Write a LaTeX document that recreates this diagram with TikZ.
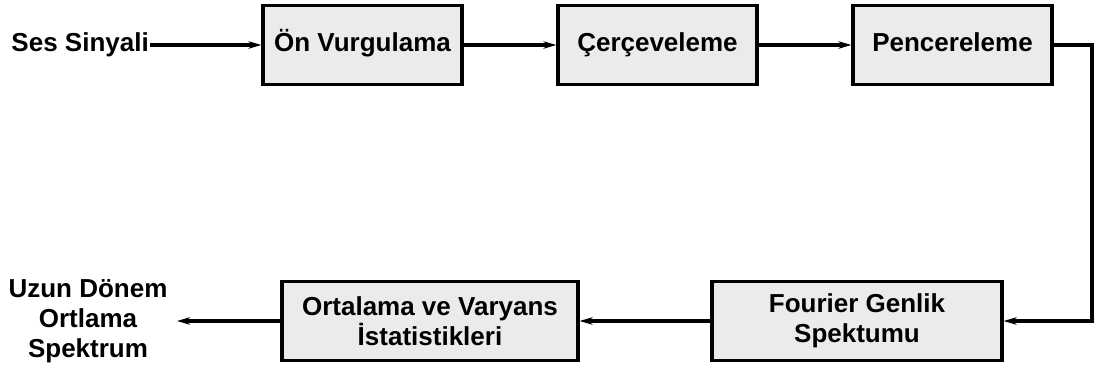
\documentclass[tikz,border=0pt]{standalone}
\usepackage{fontspec}
\setmainfont{Liberation Sans}
\usetikzlibrary{arrows.meta}
\definecolor{boxGray}{RGB}{235,235,235}
\tikzset{
  blok/.style={draw=black,fill=boxGray,line width=3.2pt,minimum height=79pt,align=center,
    font=\fontsize{26}{30}\selectfont\bfseries,inner sep=2pt},
  tekli/.style={text height=19pt,text depth=6pt},
  ok/.style={line width=3.2pt,-{Stealth[length=13pt,width=7.5pt]}}
}
\begin{document}
\begin{tikzpicture}[x=1pt,y=-1pt]
\useasboundingbox (0,0) rectangle (1097,367);
\node[blok,tekli,minimum width=199pt] (onv) at (362.5,45) {Ön Vurgulama};
\node[blok,tekli,minimum width=199pt] (cer) at (657.5,45) {Çerçeveleme};
\node[blok,tekli,minimum width=199pt] (pen) at (952.5,45) {Pencereleme};
\node[blok,minimum width=290pt] (fou) at (857,321) {Fourier Genlik\\Spektumu};
\node[blok,minimum width=296pt] (ort) at (430,321) {Ortalama ve Varyans\\İstatistikleri};
\node[font=\fontsize{26}{30}\selectfont\bfseries,tekli,inner sep=1pt,anchor=east] (ses) at (150,45) {Ses Sinyali};
\node[font=\fontsize{26}{30}\selectfont\bfseries,align=center,inner sep=0pt] (uzun) at (88,321) {Uzun Dönem\\Ortlama\\Spektrum};
\coordinate (kose) at (1092,45);
\coordinate (son) at (177,321);
% ust sira
\draw[ok] (ses.east) -- (onv.west);
\draw[ok] (onv) -- (cer);
\draw[ok] (cer) -- (pen);
% geri donus
\draw[ok] (pen.east) -- (kose) |- (fou.east);
\draw[ok] (fou) -- (ort);
\draw[ok] (ort.west) -- (son);
\end{tikzpicture}
\end{document}
